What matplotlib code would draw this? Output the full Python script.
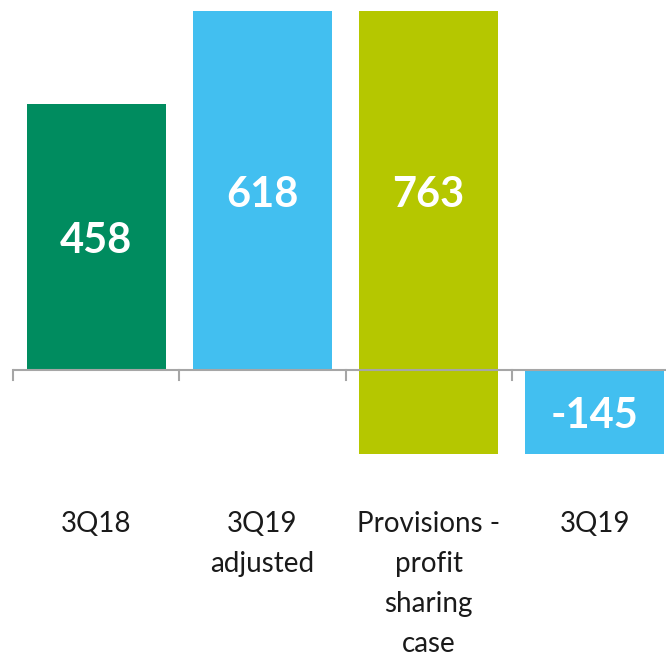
import numpy as np
import matplotlib.pyplot as plt
import matplotlib.transforms as mtransforms

plt.rcParams['font.family'] = ['Lato', 'DejaVu Sans']

# ── Data ──────────────────────────────────────────────────────────────────────
categories = ['3Q18', '3Q19\nadjusted', 'Provisions -\nprofit\nsharing\ncase', '3Q19']
values = [458, 618, -763, -145]
bottoms = [0, 0, 618, 0]
labels = ['458', '618', '763', '-145']
colors = ['#008C5F', '#42BFF0', '#B5C700', '#42BFF0']

# ── Plot ──────────────────────────────────────────────────────────────────────
fig = plt.figure(figsize=(6.66, 6.54), dpi=100)
ax = fig.add_axes([13 / 666, 0, 665 / 666, 1])

x = np.arange(len(categories))
ax.bar(x, values, bottom=bottoms, width=0.836, color=colors, zorder=2)

# value labels: centred on the bar, the provisions label sits level with 618
label_y = [458 / 2, 618 / 2, 618 / 2, -145 / 2]
for xi, yi, txt in zip(x, label_y, labels):
    ax.text(xi, yi - 7, txt, ha='center', va='center', color='white',
            fontsize=30, fontweight='bold')

ax.set_xlim(-0.5, 3.5)
ax.set_ylim(-489, 637)
ax.axhline(0, color='#A6A6A6', linewidth=1.5, zorder=3)

for s in ax.spines.values():
    s.set_visible(False)
ax.set_yticks([])

ax.set_xticks(x)
ax.set_xticklabels(categories, fontsize=20, color='#1a1a1a', linespacing=1.67)
ax.tick_params(axis='x', which='major', length=0, pad=0)

# category boundary ticks on the zero line
for b in np.arange(-0.5, 3.5, 1.0):
    ax.plot([b, b], [0, -17], color='#A6A6A6', linewidth=1.5, zorder=3,
            clip_on=False)

# lift the category labels up under the baseline
shift = mtransforms.ScaledTranslation(0, 1.43, fig.dpi_scale_trans)
for lbl in ax.get_xticklabels():
    lbl.set_verticalalignment('top')
    lbl.set_transform(lbl.get_transform() + shift)

fig.savefig('out.png', dpi=100)
